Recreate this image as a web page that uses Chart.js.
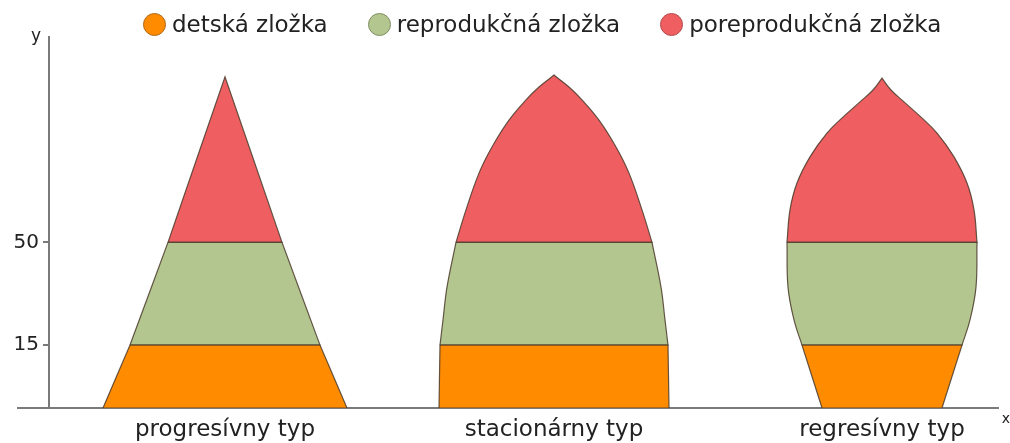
<!DOCTYPE html>
<html lang="sk">
<head>
<meta charset="UTF-8">
<title>Typy vekových pyramíd</title>
<script src="https://cdn.jsdelivr.net/npm/chart.js"></script>
<style>
  body { margin: 0; background: #fff; font-family: 'DejaVu Sans', sans-serif; }
  #wrap { position: relative; width: 1010px; height: 443px; }
  #legend { position: absolute; left: 143px; top: 13px; display: flex; align-items: center; color: #222; font-size: 23px; line-height: 23px; }
  #legend .item { display: flex; align-items: center; margin-right: 40px; }
  #legend .dot { width: 23px; height: 23px; box-sizing: border-box; border-radius: 50%; border: 1.5px solid; margin-right: 6px; }
</style>
</head>
<body>
<div id="wrap">
  <canvas id="chart" width="1010" height="443"></canvas>
  <div id="legend"></div>
</div>
<script>
// categories and components
const typeNames = ['progresívny typ', 'stacionárny typ', 'regresívny typ'];
const typeCenters = [176, 505, 833];
const componentNames = ['detská zložka', 'reprodukčná zložka', 'poreprodukčná zložka'];
const componentColors = ['#ff8b00', '#b4c68f', '#ef5f61'];
const componentEdges = ['#b0671a', '#7f8d62', '#b24a4b'];
const bandTops = [19, 50, 200];

// y ticks
const yTickValues = [19, 50];
const yTickLabels = ['15', '50'];

// outline of each type: height and half width
const progHeight = [0, 19, 50, 100];
const progHalf = [122, 95, 57, 0];
const statHeight = [0, 19, 26.6, 36.5, 50, 59.8, 70.9, 78.8, 86.9, 93, 96.9, 100.5];
const statHalf = [115, 114, 111, 107, 98, 88, 75, 62, 45, 28, 15, 0];
const regHeight = [0, 19, 26.6, 36.5, 50, 59.8, 67.9, 75.8, 83, 87.8, 92.4, 96, 99.6];
const regHalf = [60, 80, 88, 94, 95, 92, 85, 72, 55, 39, 22, 9, 0];

const profiles = [[progHeight, progHalf], [statHeight, statHalf], [regHeight, regHalf]];

const datasets = [];
profiles.forEach(([hs, ws], t) => {
  const c = typeCenters[t];
  componentNames.forEach((name, b) => {
    const lo = b === 0 ? 0 : bandTops[b - 1];
    const hi = bandTops[b];
    const left = [], right = [];
    hs.forEach((h, i) => {
      if (h < lo || h > hi) return;
      // corners are doubled so the smoothed outline keeps them sharp
      const n = (h === lo || h === hi || ws[i] === 0) ? 2 : 1;
      for (let k = 0; k < n; k++) {
        left.push({ x: c - ws[i], y: h });
        right.unshift({ x: c + ws[i], y: h });
      }
    });
    datasets.push({
      label: name,
      data: left.concat(right, [left[0]]),
      fill: 'shape',
      backgroundColor: componentColors[b],
      borderColor: 'rgba(75,60,45,0.85)',
      borderWidth: 1.2,
      pointRadius: 0,
      tension: 0.4
    });
  });
});

// legend
const legend = document.getElementById('legend');
componentNames.forEach((name, i) => {
  const item = document.createElement('div');
  item.className = 'item';
  item.innerHTML = '<span class="dot" style="background:' + componentColors[i] + ';border-color:' + componentEdges[i] + '"></span><span>' + name + '</span>';
  legend.appendChild(item);
});

const axisLetters = {
  id: 'axisLetters',
  afterDraw(chart) {
    const { ctx, chartArea, scales } = chart;
    const x0 = scales.x.getPixelForValue(0);
    ctx.save();
    ctx.fillStyle = '#222';
    ctx.textAlign = 'center';
    ctx.font = '17px "DejaVu Sans"';
    ctx.fillText('y', x0 - 13, chartArea.top + 4);
    ctx.font = '14px "DejaVu Sans"';
    ctx.fillText('x', chartArea.right + 8, chartArea.bottom + 15);
    ctx.restore();
  }
};

Chart.defaults.font.family = '"DejaVu Sans", sans-serif';
Chart.defaults.color = '#222';

new Chart(document.getElementById('chart'), {
  type: 'line',
  data: { datasets: datasets },
  plugins: [axisLetters],
  options: {
    responsive: false,
    animation: false,
    devicePixelRatio: 1,
    layout: { padding: { left: 18, right: 12, top: 37, bottom: 0 } },
    plugins: { legend: { display: false }, tooltip: { enabled: false } },
    scales: {
      x: {
        type: 'linear',
        min: -31,
        max: 949,
        z: 1,
        afterBuildTicks: s => { s.ticks = typeCenters.map(v => ({ value: v })); },
        afterFit: s => { s.height = 35; },
        ticks: {
          callback: (v, i) => typeNames[i],
          autoSkip: false,
          maxRotation: 0,
          padding: 8,
          font: { size: 23 },
          color: '#222'
        },
        grid: { display: false, drawTicks: false },
        border: { color: '#7a7a7a', width: 2 }
      },
      y: {
        type: 'linear',
        min: 0,
        max: 112,
        position: { x: 0 },
        afterBuildTicks: s => { s.ticks = yTickValues.map(v => ({ value: v })); },
        ticks: {
          // labels sit right at the axis here, the en space keeps them off it
          callback: (v, i) => yTickLabels[i] + '\u2002',
          font: { size: 20 },
          color: '#222'
        },
        grid: { drawOnChartArea: false, drawTicks: true, tickLength: 5, color: '#7a7a7a', lineWidth: 2 },
        border: { color: '#7a7a7a', width: 2 }
      }
    }
  }
});
</script>
</body>
</html>
